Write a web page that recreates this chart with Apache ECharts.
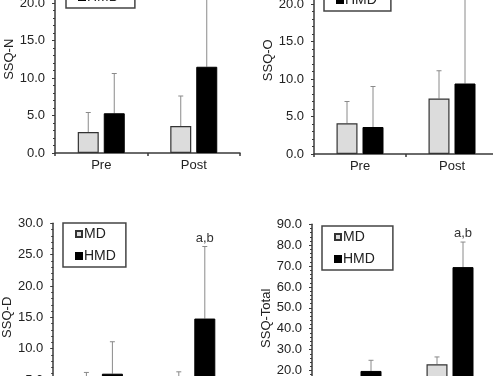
<!DOCTYPE html>
<html><head><meta charset="utf-8">
<script src="https://cdn.jsdelivr.net/npm/echarts@6/dist/echarts.min.js"></script>
<style>html,body{margin:0;padding:0;overflow:hidden;width:493px;height:376px;background:#fff}
#c{position:absolute;left:0;top:-60px;width:520px;height:500px}</style>
</head><body><div id="c"></div>
<script>
// ---- data ----
const categories = ['Pre', 'Post'];
const seriesNames = ['MD', 'HMD'];
const panelNames = ['SSQ-N', 'SSQ-O', 'SSQ-D', 'SSQ-Total'];
// SSQ-N
const nMD = [2.8, 3.6],   nMDsd = [2.6, 4.0];
const nHMD = [5.3, 11.5], nHMDsd = [5.3, 11.5];
// SSQ-O
const oMD = [4.1, 7.4],   oMDsd = [2.9, 3.7];
const oHMD = [3.6, 9.4],  oHMDsd = [5.4, 13.0];
// SSQ-D
const dMD = [2.5, 3.0],   dMDsd = [3.7, 3.3];
const dHMD = [6.0, 14.8], dHMDsd = [5.1, 11.5];
const dNote = ['', 'a,b'];
// SSQ-Total
const tMD = [10.0, 23.0], tMDsd = [6.0, 3.5];
const tHMD = [19.8, 69.5], tHMDsd = [5.1, 12.0];
const tNote = ['', 'a,b'];
// y-axis ranges and tick intervals
const yMax = [25, 25, 30, 90];
const yInterval = [5, 5, 5, 10];

// ---- layout / style ----
const BAR_W = 21, BAR_GAP = 5;
const grids = [
  {left: 55, top: 25.5, width: 185, height: 187.5},
  {left: 314, top: 26.5, width: 184, height: 187.5},
  {left: 53, top: 283.3, width: 185, height: 188},
  {left: 312, top: 284.3, width: 184, height: 188}
];
const legendPos = [
  {left: 66, top: 24},
  {left: 324, top: 27},
  {left: 63, top: 283},
  {left: 322, top: 286}
];
const legendPad = [
  [4, 16, 4, 12],
  [4, 14, 4, 12],
  [4, 10, 4, 12],
  [4, 18, 4, 12]
];
const panels = [
  {md: nMD, mdSd: nMDsd, hmd: nHMD, hmdSd: nHMDsd, note: ['', '']},
  {md: oMD, mdSd: oMDsd, hmd: oHMD, hmdSd: oHMDsd, note: ['', '']},
  {md: dMD, mdSd: dMDsd, hmd: dHMD, hmdSd: dHMDsd, note: dNote},
  {md: tMD, mdSd: tMDsd, hmd: tHMD, hmdSd: tHMDsd, note: tNote}
];
const FONT = 'Liberation Sans, Arial, sans-serif';
const axisCol = '#3a3a3a';

const option = {animation: false, grid: [], xAxis: [], yAxis: [], legend: [], series: []};

function errRender(offset) {
  return function (params, api) {
    const x = api.value(0), v = api.value(1), sd = api.value(2);
    const note = api.value(3);
    const p0 = api.coord([x, v]);
    const p1 = api.coord([x, v + sd]);
    const cx = p0[0] + offset;
    const children = [
      {type: 'line', shape: {x1: cx, y1: p0[1], x2: cx, y2: p1[1]}, style: {stroke: '#8a8a8a', lineWidth: 1}},
      {type: 'line', shape: {x1: cx - 2.5, y1: p1[1], x2: cx + 2.5, y2: p1[1]}, style: {stroke: '#8a8a8a', lineWidth: 1}}
    ];
    if (note) {
      children.push({type: 'text', x: cx, y: p1[1] - 2, style: {text: note, font: '13px ' + FONT, fill: '#333', align: 'center', verticalAlign: 'bottom'}});
    }
    return {type: 'group', children: children};
  };
}

panels.forEach((p, i) => {
  option.grid.push(Object.assign({containLabel: false}, grids[i]));
  option.xAxis.push({
    type: 'category', gridIndex: i, data: categories, boundaryGap: true,
    axisLine: {lineStyle: {color: axisCol, width: 1.5}},
    axisTick: {show: true, length: 3, lineStyle: {color: axisCol, width: 1.5}},
    axisLabel: {color: '#222', fontSize: 13, fontFamily: FONT, margin: 6}
  });
  option.yAxis.push({
    type: 'value', gridIndex: i, min: 0, max: yMax[i], interval: yInterval[i],
    name: panelNames[i], nameLocation: 'middle', nameGap: 38, nameRotate: 90,
    nameTextStyle: {color: '#222', fontSize: 13, fontFamily: FONT},
    splitLine: {show: false},
    axisLine: {show: true, lineStyle: {color: axisCol, width: 1.5}},
    axisTick: {show: true, length: 3, lineStyle: {color: axisCol}},
    minorTick: {show: true, splitNumber: 5, length: 2, lineStyle: {color: axisCol}},
    axisLabel: {color: '#222', fontSize: 13, fontFamily: FONT, margin: 10, formatter: v => v.toFixed(1)}
  });
  option.legend.push(Object.assign({
    orient: 'vertical', data: seriesNames, borderColor: '#444', borderWidth: 1.5,
    padding: legendPad[i], itemWidth: 6, itemHeight: 6, itemGap: 8, icon: 'rect',
    textStyle: {fontSize: 14, fontFamily: FONT, color: '#222', padding: [0, 0, 0, -3]},
    selectedMode: false
  }, legendPos[i]));
  option.series.push({
    name: 'MD', type: 'bar', xAxisIndex: i, yAxisIndex: i, data: p.md,
    barWidth: BAR_W, barGap: (BAR_GAP / BAR_W * 100) + '%',
    itemStyle: {color: '#dcdcdc', borderColor: '#333', borderWidth: 1.2}
  });
  option.series.push({
    name: 'HMD', type: 'bar', xAxisIndex: i, yAxisIndex: i, data: p.hmd,
    barWidth: BAR_W,
    itemStyle: {color: '#000', borderColor: '#000', borderWidth: 1}
  });
  option.series.push({
    type: 'custom', xAxisIndex: i, yAxisIndex: i, z: 1,
    renderItem: errRender(-(BAR_W + BAR_GAP) / 2),
    data: categories.map((c, k) => [k, p.md[k], p.mdSd[k], ''])
  });
  option.series.push({
    type: 'custom', xAxisIndex: i, yAxisIndex: i, z: 1,
    renderItem: errRender((BAR_W + BAR_GAP) / 2),
    data: categories.map((c, k) => [k, p.hmd[k], p.hmdSd[k], p.note[k]])
  });
});

const chart = echarts.init(document.getElementById('c'), null, {renderer: 'canvas'});
chart.setOption(option);
</script></body></html>
